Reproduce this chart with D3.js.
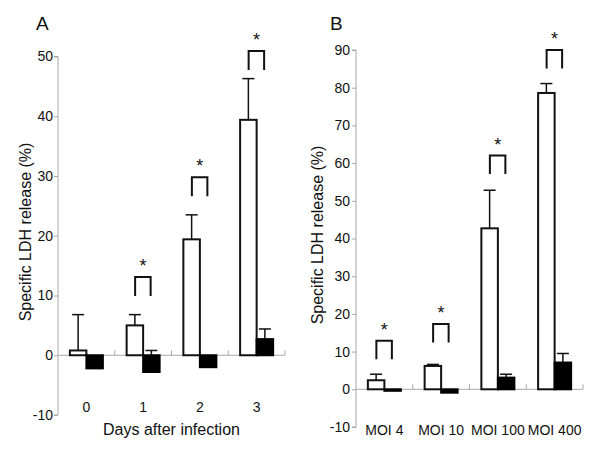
<!DOCTYPE html>
<html><head><meta charset="utf-8">
<script src="https://cdn.jsdelivr.net/npm/d3@7"></script>
<style>body{margin:0;background:#fff}svg{display:block}text{font-family:"Liberation Sans",Arial,sans-serif;fill:#111}</style>
</head><body><svg id="c" width="600" height="450"></svg>
<script>
// Panel A data
const daysCats = ["0", "1", "2", "3"];
const daysControl = [0.8, 5.0, 19.4, 39.4];
const daysControlErr = [6.0, 1.8, 4.1, 6.9];
const daysTreated = [-2.2, -2.8, -2.0, 2.7];
const daysTreatedErr = [0, 3.6, 0, 1.7];
const daysSig = [null, 13.1, 29.8, 50.9];
const daysTicks = [-10, 0, 10, 20, 30, 40, 50];

// Panel B data
const moiCats = ["MOI 4", "MOI 10", "MOI 100", "MOI 400"];
const moiControl = [2.4, 6.2, 42.7, 78.6];
const moiControlErr = [1.6, 0.4, 10.1, 2.5];
const moiTreated = [-0.4, -0.9, 3.1, 7.1];
const moiTreatedErr = [0, 0, 0.9, 2.4];
const moiSig = [12.9, 17.3, 62.0, 90.0];
const moiTicks = [-10, 0, 10, 20, 30, 40, 50, 60, 70, 80, 90];

const yTitle = "Specific LDH release (%)";

const svg = d3.select("#c");

function panel(o) {
  const g = svg.append("g");
  const x = d3.scaleBand().domain(o.cats).range([o.x0, o.x1]).padding(0);
  const y = d3.scaleLinear().domain([o.ticks[0], o.ticks[o.ticks.length - 1]]).range(o.yr);
  const bw = 16.5;

  // y axis
  const ya = g.append("g").attr("transform", `translate(${o.x0},0)`)
    .call(d3.axisLeft(y).tickValues(o.ticks).tickSize(4).tickPadding(o.pad).tickFormat(d => String(d)));
  ya.select(".domain").attr("stroke", "#a8a8a8").attr("d", `M-4,${y.range()[0]}H0V${y.range()[1]}H-4`);
  ya.selectAll(".tick line").attr("stroke", "#a8a8a8");
  ya.selectAll(".tick text").attr("font-size", 14).attr("fill", "#111")
    .attr("font-family", '"Liberation Sans",Arial,sans-serif');

  // zero line with category separator ticks
  const y0 = y(0);
  g.append("line").attr("x1", o.x0).attr("x2", o.x1).attr("y1", y0).attr("y2", y0)
    .attr("stroke", "#a8a8a8").attr("stroke-width", 1);
  o.cats.forEach((c, i) => {
    const bx = x(c) + x.bandwidth();
    g.append("line").attr("x1", bx).attr("x2", bx).attr("y1", y0).attr("y2", y0 - 5)
      .attr("stroke", "#a8a8a8");
  });

  // error bars
  function err(vals, errs, side) {
    vals.forEach((v, i) => {
      if (!errs[i]) return;
      const cx = x(o.cats[i]) + x.bandwidth() / 2 + (side ? bw / 2 : -bw / 2);
      const top = y(v + errs[i]);
      g.append("line").attr("x1", cx).attr("x2", cx).attr("y1", y(v)).attr("y2", top)
        .attr("stroke", "#111").attr("stroke-width", 1.5);
      g.append("line").attr("x1", cx - 6).attr("x2", cx + 6).attr("y1", top).attr("y2", top)
        .attr("stroke", "#111").attr("stroke-width", 1.5);
    });
  }
  err(o.control, o.controlErr, 0);
  err(o.treated, o.treatedErr, 1);

  // bars
  o.cats.forEach((c, i) => {
    const cx = x(c) + x.bandwidth() / 2;
    const v1 = o.control[i], v2 = o.treated[i];
    g.append("rect").attr("x", cx - bw).attr("width", bw)
      .attr("y", Math.min(y(v1), y0)).attr("height", Math.abs(y(v1) - y0))
      .attr("fill", "#fff").attr("stroke", "#111").attr("stroke-width", 2);
    g.append("rect").attr("x", cx).attr("width", bw)
      .attr("y", Math.min(y(v2), y0)).attr("height", Math.abs(y(v2) - y0))
      .attr("fill", "#000").attr("stroke", "#000").attr("stroke-width", 2);
  });

  // significance brackets
  o.sig.forEach((s, i) => {
    if (s == null) return;
    const cx = x(o.cats[i]) + x.bandwidth() / 2;
    const t = y(s);
    g.append("path").attr("d", `M${cx - 8},${t + o.leg}V${t}H${cx + 7.5}V${t + o.leg}`)
      .attr("fill", "none").attr("stroke", "#111").attr("stroke-width", 2);
    g.append("text").attr("x", cx).attr("y", t - 5).attr("text-anchor", "middle")
      .attr("font-size", 18).text("*");
  });

  // category labels
  o.cats.forEach(c => {
    g.append("text").attr("x", x(c) + x.bandwidth() / 2).attr("y", o.catY)
      .attr("text-anchor", "middle").attr("font-size", 14).text(c);
  });

  // y title
  g.append("text").attr("transform", `translate(${o.ytX},${o.ytY}) rotate(-90)`)
    .attr("text-anchor", "middle").attr("dy", "0.35em").attr("font-size", 16).text(yTitle);

  // panel letter
  g.append("text").attr("x", o.lx).attr("y", 30).attr("font-size", 19).text(o.letter);

  if (o.xTitle) {
    g.append("text").attr("x", (o.x0 + o.x1) / 2).attr("y", 435).attr("text-anchor", "middle")
      .attr("font-size", 16).text(o.xTitle);
  }
}

panel({
  cats: daysCats, control: daysControl, controlErr: daysControlErr,
  treated: daysTreated, treatedErr: daysTreatedErr, sig: daysSig, ticks: daysTicks,
  x0: 58, x1: 285, yr: [415, 56.5], pad: 1, leg: 19, catY: 412,
  ytX: 25, ytY: 232, lx: 36, letter: "A", xTitle: "Days after infection"
});

panel({
  cats: moiCats, control: moiControl, controlErr: moiControlErr,
  treated: moiTreated, treatedErr: moiTreatedErr, sig: moiSig, ticks: moiTicks,
  x0: 356, x1: 583, yr: [427, 50], pad: 2, leg: 18.5, catY: 435,
  ytX: 317, ytY: 235, lx: 330, letter: "B", xTitle: null
});
</script></body></html>
